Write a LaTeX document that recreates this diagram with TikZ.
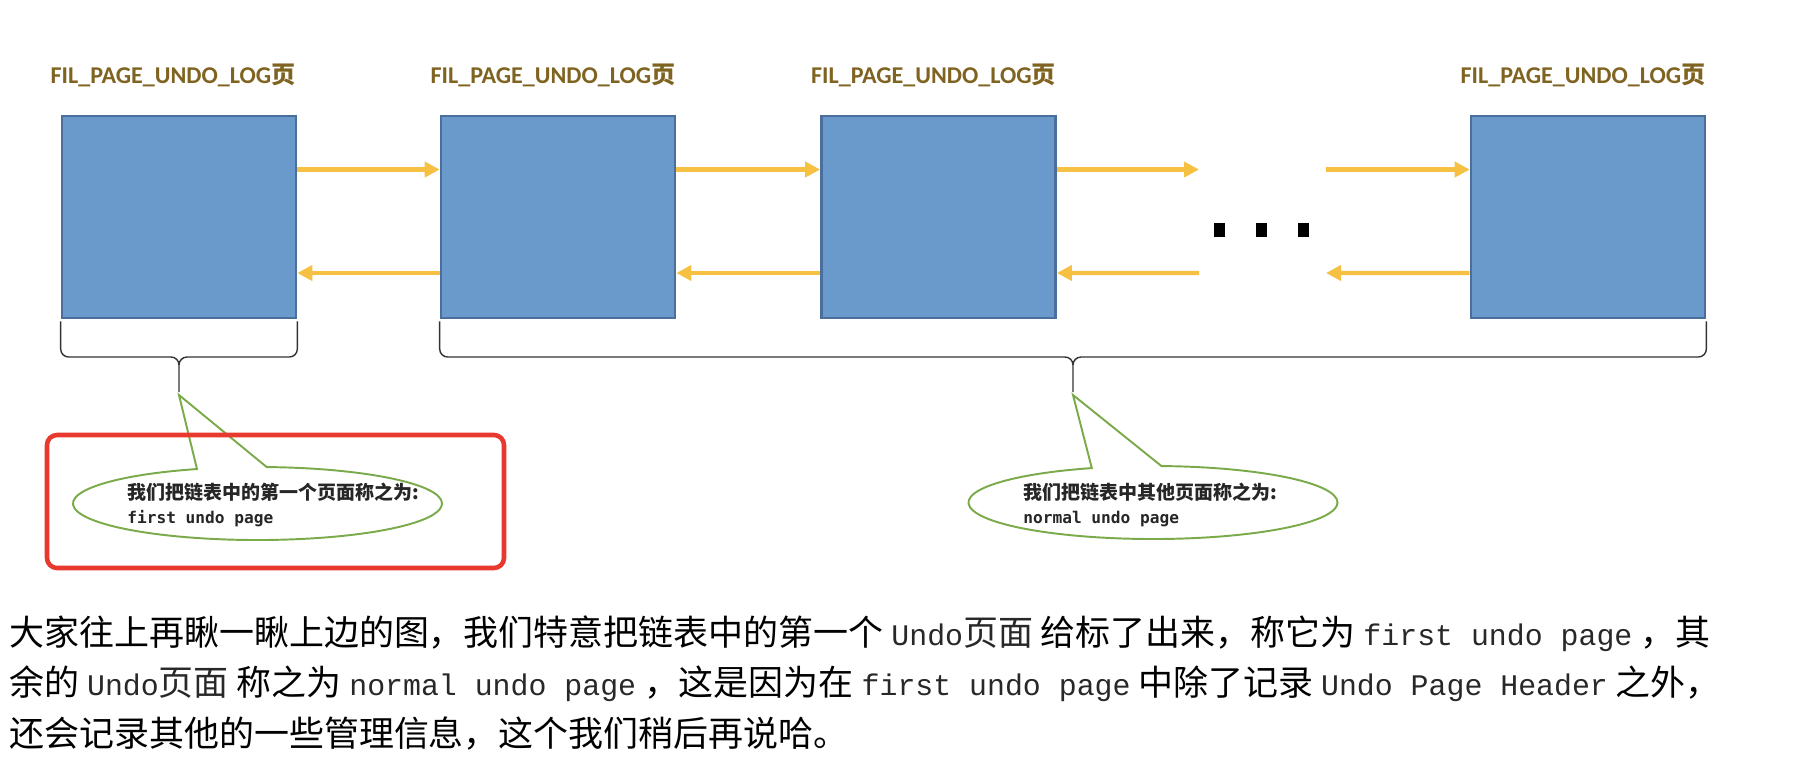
\documentclass[tikz,border=0pt]{standalone}
\usepackage{fontspec}
\setmainfont{Noto Sans CJK SC}
\newfontfamily\cjk{Noto Sans CJK SC}
\newfontfamily\labelfont{Carlito}
\newfontfamily\codefont{Liberation Mono}
\newfontfamily\notecode{DejaVu Sans Mono}
\usetikzlibrary{arrows.meta,shapes.callouts}
\definecolor{pagefill}{RGB}{106,153,204}
\definecolor{pageline}{RGB}{74,111,156}
\definecolor{linkgold}{RGB}{246,193,67}
\definecolor{labelgold}{RGB}{127,99,32}
\definecolor{notegreen}{RGB}{122,170,74}
\definecolor{markred}{RGB}{232,57,47}
\definecolor{codegray}{RGB}{40,40,40}
\newcommand{\inlinecode}[1]{{\codefont\fontsize{17}{28.5}\selectfont\color{codegray}#1}}
\tikzset{
  page/.style={rectangle, fill=pagefill, draw=pageline, line width=1.5pt, minimum width=4.68cm, minimum height=4.04cm},
  pagelabel/.style={font=\labelfont\bfseries\fontsize{13.7}{17}\selectfont, text=labelgold},
  link/.style={-{Triangle[length=0.3cm,width=0.3cm]}, line width=2.3pt, draw=linkgold},
  dotmark/.style={rectangle, fill=black, inner sep=0pt, minimum width=0.22cm, minimum height=0.28cm},
  bracket/.style={draw=black!80, line width=0.8pt, rounded corners=0.16cm},
  note/.style={ellipse callout, draw=notegreen, line width=1.1pt, fill=white, minimum width=7.38cm, minimum height=1.46cm, inner sep=0pt, callout pointer arc=22},
  notetext/.style={anchor=west, align=left, inner sep=0pt, text=black!85, font=\bfseries\fontsize{10.8}{13.7}\selectfont},
  markbox/.style={rectangle, draw=markred, line width=2.6pt, rounded corners=0.2cm, minimum width=9.14cm, minimum height=2.66cm}
}
\begin{document}
\begin{tikzpicture}
\useasboundingbox (0,0) rectangle (36.08,-15.4);
\node[pagelabel] (l1) at (3.46,-1.5) {FIL\_PAGE\_UNDO\_LOG{\cjk 页}};
\node[pagelabel] (l2) at (11.06,-1.5) {FIL\_PAGE\_UNDO\_LOG{\cjk 页}};
\node[pagelabel] (l3) at (18.67,-1.5) {FIL\_PAGE\_UNDO\_LOG{\cjk 页}};
\node[pagelabel] (l4) at (31.66,-1.5) {FIL\_PAGE\_UNDO\_LOG{\cjk 页}};
\node[page] (b1) at (3.58,-4.34) {};
\node[page] (b2) at (11.16,-4.34) {};
\node[page] (b3) at (18.77,-4.34) {};
\node[page] (b4) at (31.76,-4.34) {};
\coordinate (g1) at (23.98,-3.39);
\coordinate (g2) at (26.52,-3.39);
\coordinate (g3) at (23.98,-5.46);
\coordinate (g4) at (26.52,-5.46);
\draw[link] ([yshift=0.95cm]b1.east) -- ([yshift=0.95cm]b2.west);
\draw[link] ([yshift=0.95cm]b2.east) -- ([yshift=0.95cm]b3.west);
\draw[link] ([yshift=0.95cm]b3.east) -- (g1);
\draw[link] (g2) -- ([yshift=0.95cm]b4.west);
\draw[link] ([yshift=-1.12cm]b2.west) -- ([yshift=-1.12cm]b1.east);
\draw[link] ([yshift=-1.12cm]b3.west) -- ([yshift=-1.12cm]b2.east);
\draw[link] (g3) -- ([yshift=-1.12cm]b3.east);
\draw[link] ([yshift=-1.12cm]b4.west) -- (g4);
\foreach \x [count=\i] in {24.38,25.22,26.06}
  \node[dotmark] (d\i) at (\x,-4.6) {};
\coordinate (t1) at (3.58,-7.84);
\coordinate (t2) at (21.46,-7.84);
\draw[bracket] ([yshift=-0.04cm]b1.south west) |- ([yshift=0.7cm]t1) -- (t1)
  ([yshift=-0.04cm]b1.south east) |- ([yshift=0.7cm]t1) -- (t1);
\draw[bracket] ([yshift=-0.04cm]b2.south west) |- ([yshift=0.7cm]t2) -- (t2)
  ([yshift=-0.04cm]b4.south east) |- ([yshift=0.7cm]t2) -- (t2);
\node[note, callout absolute pointer={([yshift=-0.06cm]t1)}] (n1) at (5.15,-10.07) {};
\node[note, callout absolute pointer={([yshift=-0.06cm]t2)}] (n2) at (23.06,-10.05) {};
\node[notetext] (n1t) at (2.54,-10.1) {我们把链表中的第一个页面称之为:\\{\notecode\bfseries\fontsize{9.2}{13.7}\selectfont first undo page}};
\node[notetext] (n2t) at (20.46,-10.1) {我们把链表中其他页面称之为:\\{\notecode\bfseries\fontsize{9.2}{13.7}\selectfont normal undo page}};
\node[markbox] (m1) at (5.51,-10.03) {};
\node[anchor=west, align=left, inner sep=0pt, font=\fontsize{19.9}{28.5}\selectfont] (p1) at (0.18,-13.66)
  {大家往上再瞅一瞅上边的图，我们特意把链表中的第一个 \inlinecode{Undo}\textcolor{codegray}{页面} 给标了出来，称它为 \inlinecode{first undo page} ，其\\
   余的 \inlinecode{Undo}\textcolor{codegray}{页面} 称之为 \inlinecode{normal undo page} ，这是因为在 \inlinecode{first undo page} 中除了记录 \inlinecode{Undo Page Header} 之外，\\
   还会记录其他的一些管理信息，这个我们稍后再说哈。};
\end{tikzpicture}
\end{document}
